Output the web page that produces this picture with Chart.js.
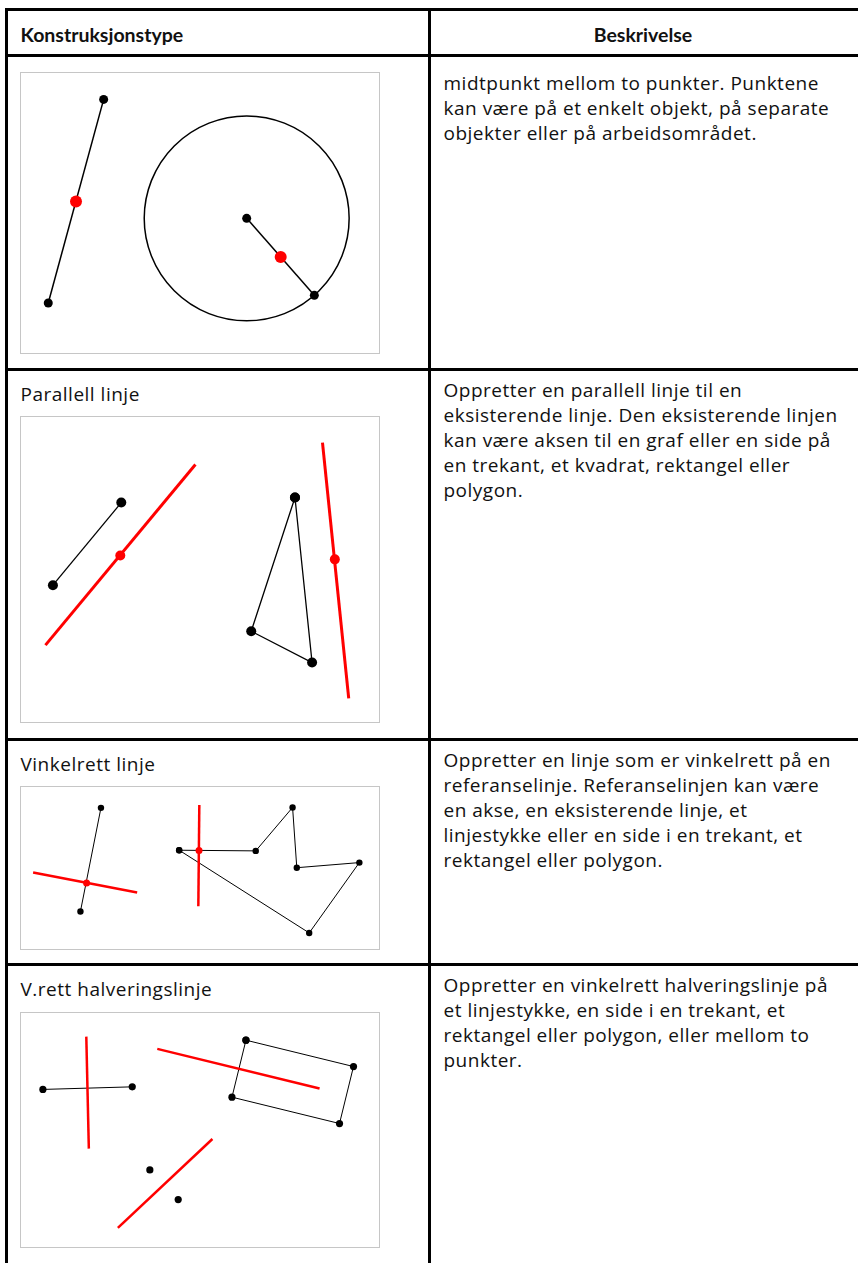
<!DOCTYPE html>
<html>
<head>
<meta charset="utf-8">
<script src="https://cdn.jsdelivr.net/npm/chart.js@4.4.1/dist/chart.umd.min.js"></script>
<style>
  html, body { margin: 0; padding: 0; background: #fff; }
  body { width: 858px; height: 1263px; position: relative; overflow: hidden; }
  .rule { position: absolute; background: #000; }
  .txt { position: absolute; font-family: "Open Sans", "Noto Sans", sans-serif; font-size: 19px;
         letter-spacing: 0.5px; line-height: 25px; color: #111; white-space: nowrap; }
  .hdr { position: absolute; font-family: Lato, "Open Sans", sans-serif; font-weight: 700;
         font-size: 19.5px; line-height: 25px; color: #111; white-space: nowrap; }
  .frame { position: absolute; left: 20px; width: 358px; border: 1px solid #c6c6c6; }
  .frame canvas { display: block; }
</style>
</head>
<body>
<!-- table rules -->
<div class="rule" style="left:5px; top:7.5px; width:853px; height:3px;"></div>
<div class="rule" style="left:5px; top:7.5px; width:3px; height:1256px;"></div>
<div class="rule" style="left:428px; top:7.5px; width:3px; height:1256px;"></div>
<div class="rule" style="left:5px; top:54px; width:853px; height:3px;"></div>
<div class="rule" style="left:5px; top:367.5px; width:853px; height:3px;"></div>
<div class="rule" style="left:5px; top:737.5px; width:853px; height:3px;"></div>
<div class="rule" style="left:5px; top:962.5px; width:853px; height:3px;"></div>

<!-- header -->
<div class="hdr" style="left:20.5px; top:21.5px;">Konstruksjonstype</div>
<div class="hdr" style="left:431px; width:424px; text-align:center; top:21.5px;">Beskrivelse</div>

<!-- row 1 -->
<div class="frame" style="top:72px; height:280px;"><canvas id="c1" width="358" height="280"></canvas></div>
<div class="txt" style="left:443.5px; top:71px;">midtpunkt mellom to punkter. Punktene<br>kan være på et enkelt objekt, på separate<br>objekter eller på arbeidsområdet.</div>

<!-- row 2 -->
<div class="txt" style="left:20.5px; top:382px;">Parallell linje</div>
<div class="frame" style="top:416px; height:305px;"><canvas id="c2" width="358" height="305"></canvas></div>
<div class="txt" style="left:443.5px; top:378px;">Oppretter en parallell linje til en<br>eksisterende linje. Den eksisterende linjen<br>kan være aksen til en graf eller en side på<br>en trekant, et kvadrat, rektangel eller<br>polygon.</div>

<!-- row 3 -->
<div class="txt" style="left:20.5px; top:752px;">Vinkelrett linje</div>
<div class="frame" style="top:786px; height:162px;"><canvas id="c3" width="358" height="162"></canvas></div>
<div class="txt" style="left:443.5px; top:748px;">Oppretter en linje som er vinkelrett på en<br>referanselinje. Referanselinjen kan være<br>en akse, en eksisterende linje, et<br>linjestykke eller en side i en trekant, et<br>rektangel eller polygon.</div>

<!-- row 4 -->
<div class="txt" style="left:20.5px; top:977px;">V.rett halveringslinje</div>
<div class="frame" style="top:1012px; height:234px;"><canvas id="c4" width="358" height="234"></canvas></div>
<div class="txt" style="left:443.5px; top:973px;">Oppretter en vinkelrett halveringslinje på<br>et linjestykke, en side i en trekant, et<br>rektangel eller polygon, eller mellom to<br>punkter.</div>

<script>
// ---------- data (coordinates, relative to each frame) ----------
// Diagram 1: midpoint
const d1Segment   = [{x:79.3,y:21.3},{x:22,y:234}];
const d1SegMid    = [{x:50.7,y:128}];
const d1Center    = [{x:227.3,y:145.6}];
const d1OnCircle  = [{x:297.3,y:226}];
const d1RadiusMid = [{x:262.5,y:186}];

// Diagram 2: parallel line
const d2Segment   = [{x:27.7,y:168.7},{x:98,y:83.3}];
const d2RedLineA  = [{x:20,y:230.7},{x:174.3,y:44}];
const d2RedDotA   = [{x:97,y:138}];
const d2Triangle  = [{x:276.7,y:78},{x:231.7,y:216.3},{x:294.3,y:248.7},{x:276.7,y:78}];
const d2RedLineB  = [{x:305,y:21.3},{x:332,y:285.7}];
const d2RedDotB   = [{x:317.7,y:142}];

// Diagram 3: perpendicular line
const d3Segment   = [{x:77.7,y:17.7},{x:56.7,y:126.7}];
const d3RedLineA  = [{x:8.3,y:85.7},{x:114.7,y:106.7}];
const d3RedDotA   = [{x:63,y:96.7}];
const d3Polygon   = [{x:157.7,y:62.3},{x:236,y:63},{x:273.7,y:17.3},{x:278,y:80.7},
                     {x:342,y:75.3},{x:290.7,y:149.3},{x:157.7,y:62.3}];
const d3RedLineB  = [{x:178.3,y:14.7},{x:177.3,y:121.3}];
const d3RedDotB   = [{x:178,y:62.7}];

// Diagram 4: perpendicular bisector
const d4Segment   = [{x:18.3,y:75},{x:109.7,y:72.3}];
const d4RedLineA  = [{x:62.7,y:20.3},{x:65.3,y:136.3}];
const d4Rect      = [{x:226,y:24},{x:336,y:51.3},{x:321.7,y:110.3},{x:211.7,y:83},{x:226,y:24}];
const d4RedLineB  = [{x:135.3,y:33},{x:301.3,y:74}];
const d4Pair      = [{x:127.7,y:158.3},{x:156.7,y:189}];
const d4RedLineC  = [{x:95,y:218.3},{x:191.7,y:126.3}];

// ---------- helpers ----------
const RED = '#ff0000', BLACK = '#000000';
function line(data, color, width, order) {
  return { data, showLine: true, borderColor: color, borderWidth: width, pointRadius: 0,
           fill: false, tension: 0, clip: false, order };
}
function dots(data, color, r) {
  return { data, showLine: false, pointRadius: r, pointBackgroundColor: color,
           pointBorderColor: color, pointBorderWidth: 0, clip: false, order: 0 };
}
// circle defined by its centre and a point on it, drawn through the chart scales
const circlePlugin = {
  id: 'circle',
  beforeDatasetsDraw(chart, args, opts) {
    if (!opts || !opts.center) return;
    const xs = chart.scales.x, ys = chart.scales.y;
    const cx = xs.getPixelForValue(opts.center.x), cy = ys.getPixelForValue(opts.center.y);
    const px = xs.getPixelForValue(opts.through.x), py = ys.getPixelForValue(opts.through.y);
    const r = Math.hypot(px - cx, py - cy);
    const ctx = chart.ctx;
    ctx.save();
    ctx.beginPath();
    ctx.arc(cx, cy, r, 0, Math.PI * 2);
    ctx.lineWidth = opts.width || 1.5;
    ctx.strokeStyle = BLACK;
    ctx.stroke();
    ctx.restore();
  }
};
Chart.register(circlePlugin);

function make(id, w, h, datasets, circle) {
  new Chart(document.getElementById(id), {
    type: 'scatter',
    data: { datasets },
    options: {
      responsive: false, animation: false, events: [],
      layout: { padding: 0 },
      plugins: { legend: { display: false }, tooltip: { enabled: false }, circle: circle || {} },
      scales: {
        x: { type: 'linear', min: 0, max: w, display: false },
        y: { type: 'linear', min: 0, max: h, reverse: true, display: false }
      }
    }
  });
}

make('c1', 358, 280, [
  dots(d1SegMid.concat(d1RadiusMid), RED, 6),
  dots(d1Segment.concat(d1Center, d1OnCircle), BLACK, 4.5),
  line(d1Segment, BLACK, 1.5, 2),
  line(d1Center.concat(d1OnCircle), BLACK, 1.5, 2)
], { center: d1Center[0], through: d1OnCircle[0], width: 1.5 });

make('c2', 358, 305, [
  dots(d2Segment.concat(d2Triangle), BLACK, 5),
  dots(d2RedDotA.concat(d2RedDotB), RED, 5),
  line(d2RedLineA, RED, 3, 1),
  line(d2RedLineB, RED, 3, 1),
  line(d2Segment, BLACK, 1.3, 2),
  line(d2Triangle, BLACK, 1.3, 2)
]);

make('c3', 358, 162, [
  dots(d3Segment.concat(d3Polygon), BLACK, 3.2),
  dots(d3RedDotA.concat(d3RedDotB), RED, 3.5),
  line(d3RedLineA, RED, 2.5, 1),
  line(d3RedLineB, RED, 2.5, 1),
  line(d3Segment, BLACK, 1, 2),
  line(d3Polygon, BLACK, 1, 2)
]);

make('c4', 358, 234, [
  dots(d4Segment.concat(d4Rect, d4Pair), BLACK, 3.6),
  line(d4RedLineA, RED, 2.5, 1),
  line(d4RedLineB, RED, 2.5, 1),
  line(d4RedLineC, RED, 2.5, 1),
  line(d4Segment, BLACK, 1, 2),
  line(d4Rect, BLACK, 1, 2)
]);
</script>
</body>
</html>
